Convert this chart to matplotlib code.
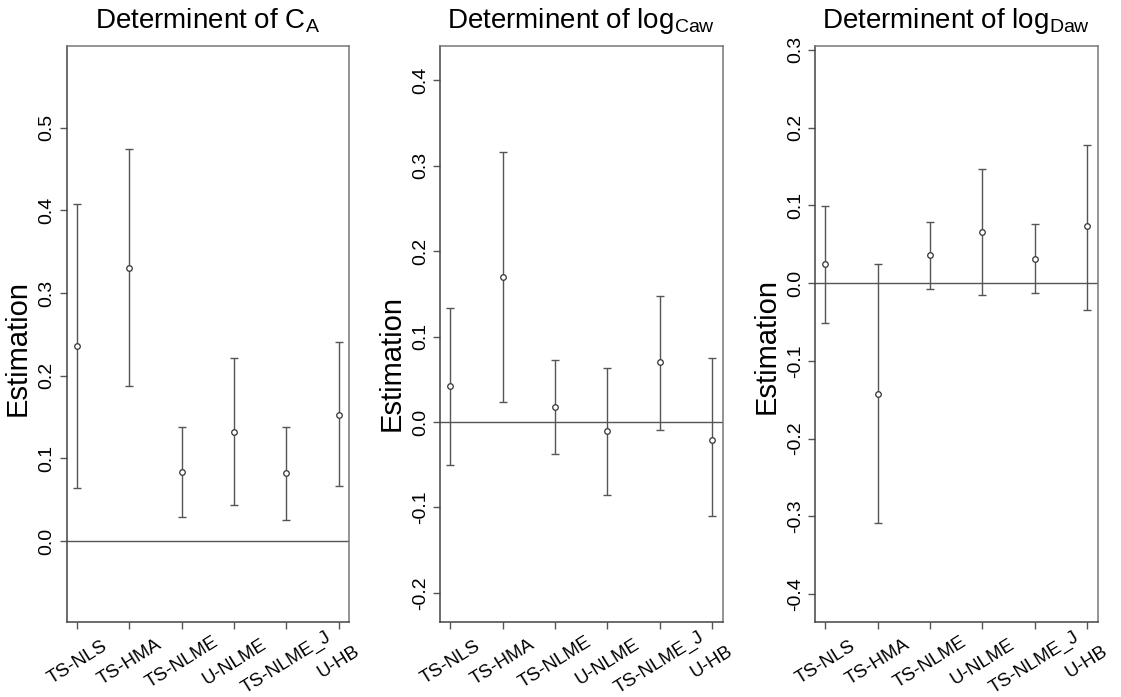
import matplotlib
matplotlib.use("Agg")
import matplotlib.pyplot as plt
import numpy as np

methods = ["TS-NLS", "TS-HMA", "TS-NLME", "U-NLME", "TS-NLME_J", "U-HB"]

titles = [r"Determinent of C$_\mathregular{A}$",
          r"Determinent of log$_\mathregular{Caw}$",
          r"Determinent of log$_\mathregular{Daw}$"]

# Panel 1: C_A
ca_est = [0.236, 0.330, 0.083, 0.132, 0.082, 0.153]
ca_low = [0.064, 0.187, 0.029, 0.044, 0.026, 0.066]
ca_up = [0.408, 0.474, 0.138, 0.221, 0.138, 0.241]

# Panel 2: log Caw
caw_est = [0.042, 0.170, 0.017, -0.011, 0.070, -0.021]
caw_low = [-0.050, 0.024, -0.038, -0.085, -0.009, -0.110]
caw_up = [0.134, 0.316, 0.072, 0.063, 0.148, 0.075]

# Panel 3: log Daw
daw_est = [0.025, -0.143, 0.036, 0.066, 0.031, 0.074]
daw_low = [-0.051, -0.308, -0.007, -0.015, -0.013, -0.035]
daw_up = [0.099, 0.025, 0.078, 0.147, 0.076, 0.178]

ylims = [(-0.098, 0.599), (-0.234, 0.440), (-0.436, 0.305)]
yticks = [[0.0, 0.1, 0.2, 0.3, 0.4, 0.5],
          [-0.2, -0.1, 0.0, 0.1, 0.2, 0.3, 0.4],
          [-0.4, -0.3, -0.2, -0.1, 0.0, 0.1, 0.2, 0.3]]
ylabel_y = [0.475, 0.45, 0.48]

plt.rcParams['font.family'] = ['Liberation Sans', 'DejaVu Sans']

W, H = 1121, 697
fig = plt.figure(figsize=(W / 100, H / 100), dpi=100)
fig.patch.set_facecolor("white")

lefts = [66.7, 440, 815]
ax_w = 282.5
top_px, bot_px = 46, 622

data = [(ca_est, ca_low, ca_up), (caw_est, caw_low, caw_up), (daw_est, daw_low, daw_up)]
x = np.arange(1, len(methods) + 1)

for i, (est, low, up) in enumerate(data):
    ax = fig.add_axes([lefts[i] / W, (H - bot_px) / H, ax_w / W, (bot_px - top_px) / H])
    est = np.array(est); low = np.array(low); up = np.array(up)
    ax.axhline(0, color="#555555", lw=1.0, zorder=1)
    ax.errorbar(x, est, yerr=[est - low, up - est], fmt="none", ecolor="#555555",
                elinewidth=1.0, capsize=3, capthick=1.0, zorder=2)
    ax.plot(x, est, "o", ms=4, mfc="white", mec="#333333", mew=0.9, zorder=3)
    ax.set_xlim(0.8, 6.2)
    ax.set_ylim(*ylims[i])
    ax.set_yticks(yticks[i])
    ax.set_yticklabels([f"{v:.1f}" for v in yticks[i]], rotation=90, va="center", fontsize=14)
    ax.set_xticks(x)
    ax.set_xticklabels(methods, rotation=32, ha="center", va="center",
                       rotation_mode="anchor", fontsize=13.5)
    ax.tick_params(axis="x", length=5, width=1, color="#555555", pad=24)
    ax.tick_params(axis="y", length=5, width=1, color="#555555", pad=3)
    for s in ax.spines.values():
        s.set_color("#777777")
        s.set_linewidth(1.1)
    ax.spines["left"].set_color("#444444")
    ax.spines["bottom"].set_color("#444444")
    ax.set_ylabel("Estimation", fontsize=21)
    ax.yaxis.set_label_coords(-0.123, ylabel_y[i])
    ax.set_title(titles[i], fontsize=20, pad=13)

fig.savefig("out.png", dpi=100, facecolor="white")
